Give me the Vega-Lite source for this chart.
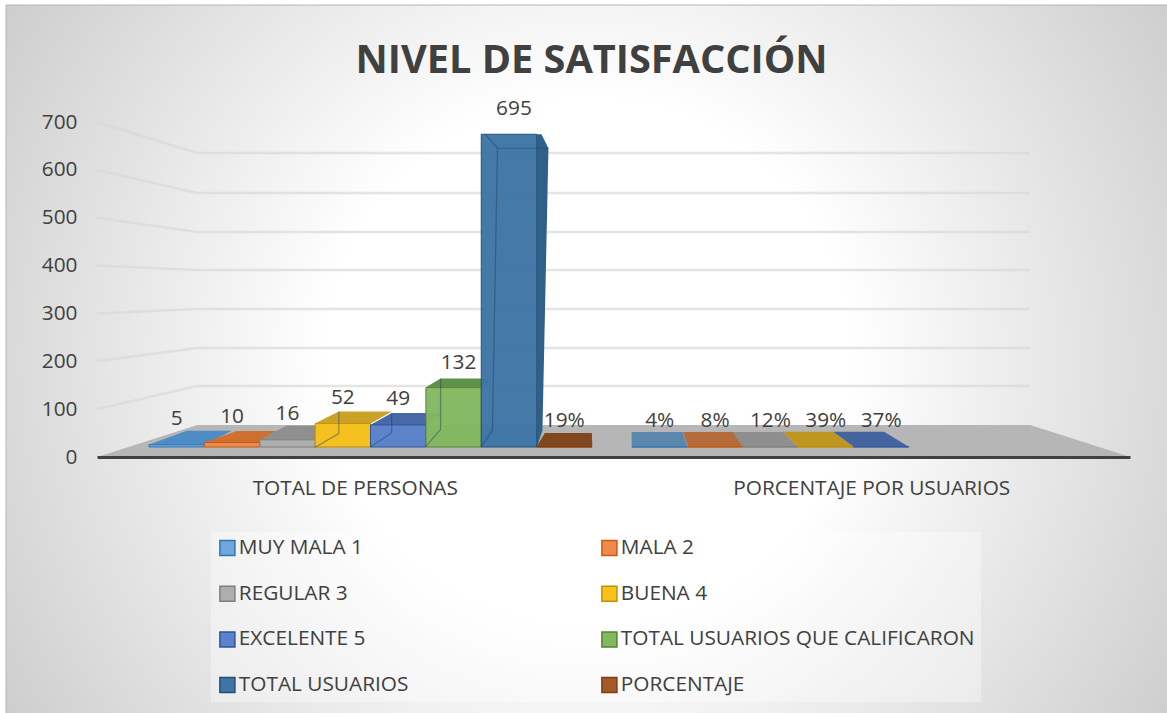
{"$schema":"https://vega.github.io/schema/vega-lite/v6.json","width":1167,"height":713,"autosize":"none","padding":0,"background":"white","view":{"stroke":null},
"config":{"font":"Open Sans","text":{"font":"Open Sans"}},
"title":{"text":"NIVEL DE SATISFACCIÓN","font":"Open Sans","fontSize":39.7,"fontWeight":"bold","color":"#404040","anchor":"middle","frame":"group","dx":8,"offset":-82},
"datasets":{
"bars":[
{"group":"TOTAL DE PERSONAS","series":"MUY MALA 1","slot":"T1","value":5,"label":"5"},
{"group":"TOTAL DE PERSONAS","series":"MALA 2","slot":"T2","value":10,"label":"10"},
{"group":"TOTAL DE PERSONAS","series":"REGULAR 3","slot":"T3","value":16,"label":"16"},
{"group":"TOTAL DE PERSONAS","series":"BUENA 4","slot":"T4","value":52,"label":"52"},
{"group":"TOTAL DE PERSONAS","series":"EXCELENTE 5","slot":"T5","value":49,"label":"49"},
{"group":"TOTAL DE PERSONAS","series":"TOTAL USUARIOS QUE CALIFICARON","slot":"T6","value":132,"label":"132"},
{"group":"TOTAL DE PERSONAS","series":"TOTAL USUARIOS","slot":"T7","value":695,"label":"695"},
{"group":"TOTAL DE PERSONAS","series":"PORCENTAJE","slot":"T8","value":0.19,"label":"19%"},
{"group":"PORCENTAJE POR USUARIOS","series":"MUY MALA 1","slot":"P1","value":0.04,"label":"4%"},
{"group":"PORCENTAJE POR USUARIOS","series":"MALA 2","slot":"P2","value":0.08,"label":"8%"},
{"group":"PORCENTAJE POR USUARIOS","series":"REGULAR 3","slot":"P3","value":0.12,"label":"12%"},
{"group":"PORCENTAJE POR USUARIOS","series":"BUENA 4","slot":"P4","value":0.39,"label":"39%"},
{"group":"PORCENTAJE POR USUARIOS","series":"EXCELENTE 5","slot":"P5","value":0.37,"label":"37%"}
],
"grid":[
{"level":100,"along":0,"height":100},{"level":100,"along":0.0968,"height":148.4},{"level":100,"along":0.903,"height":148.4},
{"level":200,"along":0,"height":200},{"level":200,"along":0.0968,"height":227.7},{"level":200,"along":0.903,"height":227.7},
{"level":300,"along":0,"height":300},{"level":300,"along":0.0968,"height":309.2},{"level":300,"along":0.903,"height":309.2},
{"level":400,"along":0,"height":400},{"level":400,"along":0.0968,"height":390.7},{"level":400,"along":0.903,"height":390.7},
{"level":500,"along":0,"height":500},{"level":500,"along":0.0968,"height":470},{"level":500,"along":0.903,"height":470},
{"level":600,"along":0,"height":600},{"level":600,"along":0.0968,"height":551.6},{"level":600,"along":0.903,"height":551.6},
{"level":700,"along":0,"height":700},{"level":700,"along":0.0968,"height":635.2},{"level":700,"along":0.903,"height":635.2}
],
"groups":[{"group":"TOTAL DE PERSONAS","floor":true},{"group":"PORCENTAJE POR USUARIOS","floor":false}]
},
"layer":[
{"data":{"values":[{"panel":"chart area"}]},"mark":{"type":"rect","stroke":"#b5b5b5","strokeWidth":1,"fill":{"gradient":"radial","x1":0.5,"y1":0.5,"r1":0,"x2":0.5,"y2":0.5,"r2":0.75,"stops":[{"offset":0,"color":"#ffffff"},{"offset":0.3,"color":"#ffffff"},{"offset":0.95,"color":"#bcbcbc"},{"offset":1,"color":"#bcbcbc"}]}},
"encoding":{"x":{"datum":0,"type":"quantitative","scale":{"domain":[0,1],"range":[6,1172]},"axis":null},"x2":{"datum":1},"y":{"datum":0,"type":"quantitative","scale":{"domain":[0,1],"range":[718,5]},"axis":null},"y2":{"datum":1}}},
{"data":{"name":"grid"},"mark":{"type":"line","color":"#d9d9d9","opacity":0.7,"strokeWidth":2.5},
"encoding":{"x":{"field":"along","type":"quantitative","scale":{"domain":[0,1],"range":[97,1130]},"axis":null},"y":{"field":"height","type":"quantitative","scale":{"domain":[0,700],"range":[457,122]},"axis":{"values":[0,100,200,300,400,500,600,700],"orient":"left","offset":-77,"domain":false,"ticks":false,"grid":false,"title":null,"labelFont":"Open Sans","labelFontSize":20.8,"labelColor":"#404040","labelPadding":0,"zindex":1}},"detail":{"field":"level"},"order":{"field":"along"}}},
{"data":{"name":"groups"},"transform":[{"filter":"datum.floor"}],"mark":{"type":"point","filled":true,"opacity":1,"size":4,"fill":"#b6b6b6","shape":"M-258,0L-158,-32L675,-32L775,0Z"},
"encoding":{"x":{"field":"group","type":"nominal","sort":null,"scale":{"type":"band","domain":["TOTAL DE PERSONAS","PORCENTAJE POR USUARIOS"],"range":[97,1130],"paddingInner":0,"paddingOuter":0},"axis":{"orient":"bottom","offset":-256,"title":null,"ticks":false,"labelAngle":0,"labelFont":"Open Sans","labelFontSize":20.8,"labelColor":"#404040","labelPadding":21,"labelLimit":400,"domainColor":"#404040","domainWidth":3,"zindex":1}},"y":{"datum":0,"type":"quantitative","scale":{"domain":[0,700],"range":[457,122]},"axis":null}}},
{"data":{"name":"bars"},"mark":{"type":"point","filled":true,"opacity":1,"size":4},
"encoding":{
"x":{"field":"group","type":"nominal","scale":{"type":"band","domain":["TOTAL DE PERSONAS","PORCENTAJE POR USUARIOS"],"range":[149,1075],"paddingInner":0.0828,"paddingOuter":0},"axis":null},
"xOffset":{"field":"series","type":"nominal","scale":{"type":"point","padding":0.5,"domain":["MUY MALA 1","MALA 2","REGULAR 3","BUENA 4","EXCELENTE 5","TOTAL USUARIOS QUE CALIFICARON","TOTAL USUARIOS","PORCENTAJE"]}},
"y":{"field":"value","type":"quantitative","scale":{"domain":[0,700],"range":[447,132]},"axis":null},
"shape":{"field":"slot","type":"nominal","legend":null,"scale":{"domain":["T1","T2","T3","T4","T5","T6","T7","T8","P1","P2","P3","P4","P5"],"range":["M-28,0L28,0L55,-14L10,-14Z","M-28,0L28,0L50.5,-11.5L4.5,-11.5Z","M-28,0L28,0L51,-14L-1,-14Z","M-28,0L28,0L49,-12L-4,-12Z","M-28,0L28,0L47,-12L-6.5,-12Z","M-28,0L28,0L38,-9L-13,-9Z","M32.5,0L39.5,14L33.5,296L28,313L28,0Z","M-28,0L28,0L27.5,-14L-19.5,-14Z","M-28,0L28,0L23,-15L-28,-15Z","M-27,0L28,0L18,-15L-32,-15Z","M-27.5,0L27.5,0L12.5,-15L-37.5,-15Z","M-28,0L28,0L7,-15L-43,-15Z","M-27.5,0L27.5,0L3,-15L-48,-15Z"]}},
"fill":{"field":"slot","type":"nominal","legend":null,"scale":{"domain":["T1","T2","T3","T4","T5","T6","T7","T8","P1","P2","P3","P4","P5"],"range":["#4d8cc4","#d07030","#8f8f8f","#c9a227","#4868a8","#5f9148","#2f5f8b","#82471f","#5b87ad","#b56c3a","#8e8e8e","#bf9620","#43649f"]}}
}},
{"data":{"name":"bars"},"mark":{"type":"bar","strokeWidth":1,"opacity":0.97},
"encoding":{
"x":{"field":"group","type":"nominal","scale":{"type":"band","domain":["TOTAL DE PERSONAS","PORCENTAJE POR USUARIOS"],"range":[149,1075],"paddingInner":0.0828,"paddingOuter":0},"axis":null},
"xOffset":{"field":"series","type":"nominal","scale":{"domain":["MUY MALA 1","MALA 2","REGULAR 3","BUENA 4","EXCELENTE 5","TOTAL USUARIOS QUE CALIFICARON","TOTAL USUARIOS","PORCENTAJE"],"paddingInner":0,"paddingOuter":0}},
"y":{"field":"value","type":"quantitative","scale":{"domain":[0,700],"range":[447,132]},"axis":null},
"color":{"field":"series","type":"nominal","title":null,"scale":{"domain":["MUY MALA 1","MALA 2","REGULAR 3","BUENA 4","EXCELENTE 5","TOTAL USUARIOS QUE CALIFICARON","TOTAL USUARIOS","PORCENTAJE"],"range":["#70a6dc","#ef8a4c","#aeaeae","#f8c21c","#5b82cc","#83b85f","#3e75a6","#a55a29"]},
"legend":{"orient":"none","direction":"horizontal","legendX":211,"legendY":532,"columns":2,"gridAlign":"each","columnPadding":190,"rowPadding":24.7,"clipHeight":20,"padding":6,"fillColor":"rgba(255,255,255,0.35)","symbolType":"square","symbolSize":225,"symbolStrokeWidth":1.5,"symbolOpacity":1,"labelFont":"Open Sans","labelFontSize":20.8,"labelColor":"#404040","labelLimit":420,"labelOffset":1,"title":null}},
"stroke":{"field":"series","type":"nominal","title":null,"scale":{"domain":["MUY MALA 1","MALA 2","REGULAR 3","BUENA 4","EXCELENTE 5","TOTAL USUARIOS QUE CALIFICARON","TOTAL USUARIOS","PORCENTAJE"],"range":["#2e75b6","#c55a11","#7f7f7f","#bf9000","#2f5597","#548235","#1f4e79","#843c0c"]},
"legend":{"orient":"none","direction":"horizontal","legendX":211,"legendY":532,"columns":2,"gridAlign":"each","columnPadding":190,"rowPadding":24.7,"clipHeight":20,"padding":6,"fillColor":"rgba(255,255,255,0.35)","symbolType":"square","symbolSize":225,"symbolStrokeWidth":1.5,"symbolOpacity":1,"labelFont":"Open Sans","labelFontSize":20.8,"labelColor":"#404040","labelLimit":420,"labelOffset":1,"title":null}}
}},
{"data":{"name":"bars"},"transform":[{"filter":"indexof(['T4','T5','T6','T7'],datum.slot)>=0"}],"mark":{"type":"point","filled":false,"opacity":0.45,"size":4,"strokeWidth":1.2,"color":"#1f3f5f"},
"encoding":{
"x":{"field":"group","type":"nominal","scale":{"type":"band","domain":["TOTAL DE PERSONAS","PORCENTAJE POR USUARIOS"],"range":[149,1075],"paddingInner":0.0828,"paddingOuter":0},"axis":null},
"xOffset":{"field":"series","type":"nominal","scale":{"type":"point","padding":0.5,"domain":["MUY MALA 1","MALA 2","REGULAR 3","BUENA 4","EXCELENTE 5","TOTAL USUARIOS QUE CALIFICARON","TOTAL USUARIOS","PORCENTAJE"]}},
"y":{"field":"value","type":"quantitative","scale":{"domain":[0,700],"range":[447,132]},"axis":null},
"shape":{"field":"slot","type":"nominal","legend":null,"scale":{"domain":["T4","T5","T6","T7"],"range":["M-4,-12L-4,10L-28,24","M-6.5,-12L-6.5,8L-28,22","M-13,-9L-13,42L-28,59","M-23.5,0L-11.5,14L39.5,14M-11.5,14L-16.5,296L-28,313"]}}
}},
{"data":{"name":"bars"},"transform":[{"filter":"datum.value<100"}],"mark":{"type":"text","dy":-26,"font":"Open Sans","fontSize":20.8,"color":"#404040","baseline":"middle"},
"encoding":{
"x":{"field":"group","type":"nominal","scale":{"type":"band","domain":["TOTAL DE PERSONAS","PORCENTAJE POR USUARIOS"],"range":[149,1075],"paddingInner":0.0828,"paddingOuter":0},"axis":null},
"xOffset":{"field":"series","type":"nominal","scale":{"type":"point","padding":0.5,"domain":["MUY MALA 1","MALA 2","REGULAR 3","BUENA 4","EXCELENTE 5","TOTAL USUARIOS QUE CALIFICARON","TOTAL USUARIOS","PORCENTAJE"]}},
"y":{"field":"value","type":"quantitative","scale":{"domain":[0,700],"range":[447,132]},"axis":null},
"text":{"field":"label","type":"nominal"}
}},
{"data":{"name":"bars"},"transform":[{"filter":"datum.value>=100"}],"mark":{"type":"text","dy":-25,"dx":5,"font":"Open Sans","fontSize":20.8,"color":"#404040","baseline":"middle"},
"encoding":{
"x":{"field":"group","type":"nominal","scale":{"type":"band","domain":["TOTAL DE PERSONAS","PORCENTAJE POR USUARIOS"],"range":[149,1075],"paddingInner":0.0828,"paddingOuter":0},"axis":null},
"xOffset":{"field":"series","type":"nominal","scale":{"type":"point","padding":0.5,"domain":["MUY MALA 1","MALA 2","REGULAR 3","BUENA 4","EXCELENTE 5","TOTAL USUARIOS QUE CALIFICARON","TOTAL USUARIOS","PORCENTAJE"]}},
"y":{"field":"value","type":"quantitative","scale":{"domain":[0,700],"range":[447,132]},"axis":null},
"text":{"field":"label","type":"nominal"}
}}
],
"resolve":{"scale":{"x":"independent","y":"independent","xOffset":"independent","shape":"independent","color":"independent","stroke":"independent","fill":"independent"},"axis":{"x":"independent","y":"independent"},"legend":{"color":"independent","stroke":"independent"}}}
